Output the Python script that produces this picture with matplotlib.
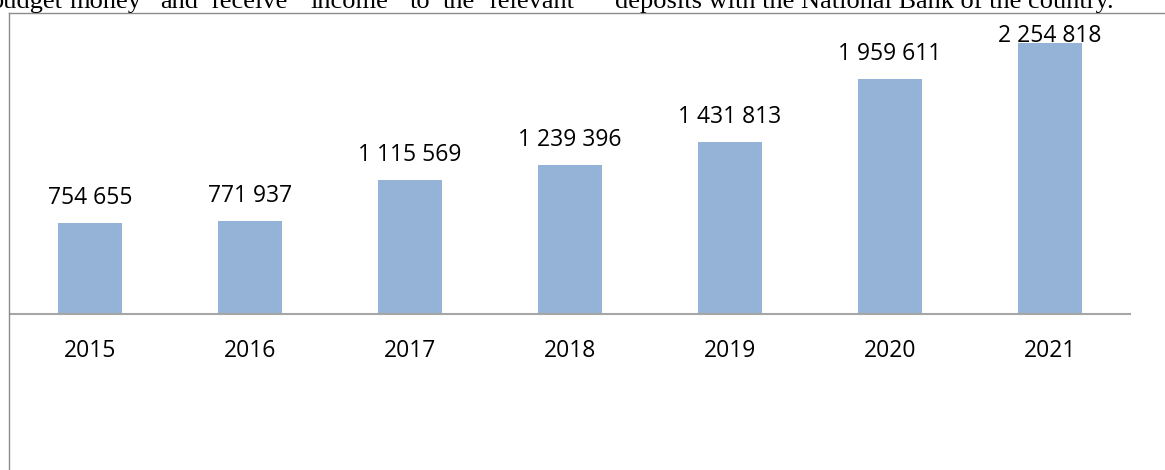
import matplotlib
matplotlib.use("Agg")
import matplotlib.pyplot as plt
from matplotlib.lines import Line2D
import numpy as np

W, H = 1165, 470

years = ["2015", "2016", "2017", "2018", "2019", "2020", "2021"]
values = [754655, 771937, 1115569, 1239396, 1431813, 1959611, 2254818]
value_labels = ["754 655", "771 937", "1 115 569", "1 239 396", "1 431 813", "1 959 611", "2 254 818"]

# justified line of the page text above the chart (cut at the top)
left_words = ["budget", "money", "and", "receive", "income", "to", "the", "relevant"]
left_x = [-10, 69, 160, 212, 310, 410, 443, 490]
right_text = "deposits with the National Bank of the country."

YMAX = 2500000
px = YMAX / 300.0  # data units per pixel

fig = plt.figure(figsize=(W / 100, H / 100), dpi=100)
fig.patch.set_facecolor("white")

# page text
for w, x in zip(left_words, left_x):
    fig.text(x / W, 1 - 8 / H, w, family="Liberation Serif", fontsize=19,
             va="baseline", ha="left", color="black")
fig.text(615 / W, 1 - 8 / H, right_text, family="Liberation Serif", fontsize=19,
         va="baseline", ha="left", color="black")

# chart border (runs off the right and bottom of the crop)
bc = "#8c8c8c"
fig.add_artist(Line2D([9 / W, 9 / W], [1 - 13 / H, -0.1], color=bc, lw=1.0,
                      transform=fig.transFigure))
fig.add_artist(Line2D([9 / W, 1.1], [1 - 13 / H, 1 - 13 / H], color=bc, lw=1.0,
                      transform=fig.transFigure))

ax = fig.add_axes([10 / W, (H - 314) / H, 1120 / W, 300 / H])
ax.set_facecolor("none")
x = np.arange(len(years))
ax.bar(x, values, width=0.4, color="#95b3d7", zorder=2)
ax.set_xlim(-0.5, len(years) - 0.5)
ax.set_ylim(0, YMAX)

for s in ["top", "right", "left"]:
    ax.spines[s].set_visible(False)
ax.spines["bottom"].set_color("#a6a6a6")
ax.spines["bottom"].set_linewidth(1.5)
ax.spines["bottom"].set_zorder(3)
ax.set_yticks([])
ax.set_xticks(x)
ax.set_xticklabels(years, family="Open Sans", fontsize=16.5)
ax.tick_params(axis="x", length=0, pad=18)

# value labels, held inside the chart area like Excel does
cap = YMAX - 28 * px
for xi, v, lab in zip(x, values, value_labels):
    y = min(v + 19 * px, cap)
    ax.text(xi, y, lab, ha="center", va="baseline", family="Open Sans",
            fontsize=16.5, color="black", clip_on=False)

fig.savefig("out.png", dpi=100)
